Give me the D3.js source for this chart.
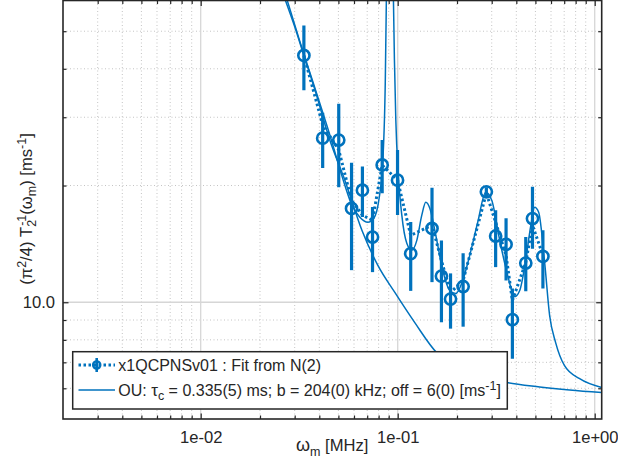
<!DOCTYPE html>
<html><head><meta charset="utf-8">
<script src="https://cdn.jsdelivr.net/npm/d3@7"></script>
<style>
body{margin:0;background:#fff;}
text{font-family:"Liberation Sans",Arial,Helvetica,sans-serif;fill:#262626;}
</style>
</head><body>
<svg id="c" width="618" height="465"></svg>
<script>
// ---------------- data ----------------
const dataX = [0.0334,0.0416,0.0502,0.0583,0.0662,0.0745,0.0834,0.0998,0.1164,0.1493,0.1667,0.1854,0.2148,0.2818,0.3141,0.3548,0.382,0.4467,0.4831,0.5458];
const dataY = [43.3,26.5,26.2,17.45,19.45,14.73,22.6,20.65,13.35,15.5,11.68,10.19,10.98,19.27,14.82,14.1,9.02,12.62,16.44,13.13];
const errLow  = [35.2,22.2,19.8,12.1,16.6,11.96,19.1,16.8,10.7,11.27,8.88,8.55,8.65,18.8,12.32,11.38,7.15,10.68,13.74,10.85];
const errHigh = [51.7,30.8,32.5,22.9,22.4,17.6,26.2,24.7,16.1,19.75,14.44,11.87,13.37,19.8,17.27,16.47,10.85,14.73,19.85,15.33];
// dotted "Fit from N(2)" line values at the data frequencies
const fitN2Y = [43.3,28.67,24.7,18.33,16.77,16.27,22.58,20.65,14.88,15.8,12.82,10.59,11.38,19.11,16.08,13.21,10.1,12.67,15.8,13.21];
// OU model curve
const ouX = [0.0268,0.0301,0.0334,0.0380,0.0452,0.0539,0.0658,0.0793,0.0967,0.1221,0.1579,0.2065,0.2765,0.3575,0.5256,0.7459,1.084];
const ouY = [60.4,51.1,43.25,35.3,26.2,20.65,15.33,12.45,10.6,8.86,7.41,6.78,6.42,6.21,6.05,5.94,5.85];
// oscillating model curve
const modelX = [0.02739,0.03189,0.03798,0.04524,0.05391,0.05851,0.06424,0.07054,0.07565,0.08019,0.08403,0.08651,0.08783,0.09118,0.09478,0.09623,0.09781,0.1007,0.1049,0.1112,0.1179,0.1250,0.1325,0.1388,0.1455,0.1561,0.1693,0.1837,0.1970,0.2138,0.2320,0.2548,0.2797,0.3001,0.3295,0.3617,0.3925,0.4161,0.4463,0.4732,0.4956,0.5194,0.5569,0.5905,0.6333,0.7028,0.8384,1.084];
const modelY = [60.4,47.0,35.7,27.0,20.04,17.8,16.57,16.08,16.47,18.33,23.26,37.5,68.0,267.8,68.0,42.2,29.5,21.28,16.77,14.19,13.61,14.44,16.77,18.11,17.48,14.88,12.08,10.72,10.53,11.38,13.21,16.08,19.22,18.33,14.44,11.72,10.34,10.72,12.82,15.71,17.59,17.07,12.67,9.24,7.87,6.86,6.35,6.03];
const xTickValues = [0.01,0.1,1];
const xTickLabels = ["1e-02","1e-01","1e+00"];
const yTickValues = [10];
const yTickLabels = ["10.0"];
const xMinor = [0.003,0.004,0.005,0.006,0.007,0.008,0.009,0.02,0.03,0.04,0.05,0.06,0.07,0.08,0.09,0.2,0.3,0.4,0.5,0.6,0.7,0.8,0.9];
const yMinor = [6,7,8,9,20,30,40,50];

// ---------------- layout ----------------
const L = 63, R = 601.7, T = 0.5, B = 419;
const blue = "#0072BD", axc = "#262626";
const svg = d3.select("#c");
const x = d3.scaleLog().domain([0.002,1.085]).range([L,R]);
const y = d3.scaleLog().domain([5,60]).range([B,T]);

svg.append("defs").append("clipPath").attr("id","clip")
  .append("rect").attr("x",L).attr("y",T).attr("width",R-L).attr("height",B-T);

// grid
const grid = svg.append("g");
grid.selectAll(".gxm").data(xMinor).join("line")
  .attr("x1",d=>x(d)).attr("x2",d=>x(d)).attr("y1",T).attr("y2",B)
  .attr("stroke","#c4c4c4").attr("stroke-width",1).attr("stroke-dasharray","1,2.5");
grid.selectAll(".gym").data(yMinor).join("line")
  .attr("y1",d=>y(d)).attr("y2",d=>y(d)).attr("x1",L).attr("x2",R)
  .attr("stroke","#c4c4c4").attr("stroke-width",1).attr("stroke-dasharray","1,2.5");
grid.selectAll(".gx").data(xTickValues).join("line")
  .attr("x1",d=>x(d)).attr("x2",d=>x(d)).attr("y1",T).attr("y2",B)
  .attr("stroke","#d6d6d6").attr("stroke-width",1.3);
grid.selectAll(".gy").data(yTickValues).join("line")
  .attr("y1",d=>y(d)).attr("y2",d=>y(d)).attr("x1",L).attr("x2",R)
  .attr("stroke","#d6d6d6").attr("stroke-width",1.3);

// plot content
const plot = svg.append("g").attr("clip-path","url(#clip)");
const lineGen = d3.line().x(d=>x(d[0])).y(d=>y(d[1])).curve(d3.curveMonotoneX);
plot.append("path").datum(ouX.map((v,i)=>[v,ouY[i]])).attr("d",lineGen)
  .attr("fill","none").attr("stroke",blue).attr("stroke-width",1.5);
plot.append("path").datum(modelX.map((v,i)=>[v,modelY[i]])).attr("d",lineGen)
  .attr("fill","none").attr("stroke",blue).attr("stroke-width",1.5);
const lin = d3.line().x(d=>x(d[0])).y(d=>y(d[1]));
plot.append("path").datum(dataX.map((v,i)=>[v,fitN2Y[i]])).attr("d",lin)
  .attr("fill","none").attr("stroke",blue).attr("stroke-width",3).attr("stroke-dasharray","2.5,2.5");
plot.selectAll(".eb").data(dataX).join("line")
  .attr("x1",d=>x(d)).attr("x2",d=>x(d))
  .attr("y1",(d,i)=>y(errLow[i])).attr("y2",(d,i)=>y(errHigh[i]))
  .attr("stroke",blue).attr("stroke-width",3.2);
plot.selectAll(".mk").data(dataX).join("circle")
  .attr("cx",d=>x(d)).attr("cy",(d,i)=>y(dataY[i])).attr("r",5.6)
  .attr("fill","none").attr("stroke",blue).attr("stroke-width",2.6);

// axes
function styleAxis(g){
  g.select(".domain").remove();
  g.selectAll(".tick line").attr("stroke",axc).attr("stroke-width",1.2);
  g.selectAll("text").style("font-size","16.6px").attr("fill",axc);
}
const fmtX = d=>xTickLabels[xTickValues.indexOf(d)];
const fmtY = d=>yTickLabels[yTickValues.indexOf(d)];
svg.append("g").attr("transform",`translate(0,${B})`)
  .call(d3.axisBottom(x).tickValues(xTickValues).tickFormat(fmtX).tickSize(-5.5).tickPadding(12.5)).call(styleAxis);
svg.append("g").attr("transform",`translate(0,${B})`)
  .call(d3.axisBottom(x).tickValues(xMinor).tickFormat("").tickSize(-3.5)).call(styleAxis);
svg.append("g").attr("transform",`translate(0,${T})`)
  .call(d3.axisTop(x).tickValues(xTickValues).tickFormat("").tickSize(-5.5)).call(styleAxis);
svg.append("g").attr("transform",`translate(0,${T})`)
  .call(d3.axisTop(x).tickValues(xMinor).tickFormat("").tickSize(-3.5)).call(styleAxis);
svg.append("g").attr("transform",`translate(${L},0)`)
  .call(d3.axisLeft(y).tickValues(yTickValues).tickFormat(fmtY).tickSize(-5.5).tickPadding(8)).call(styleAxis);
svg.append("g").attr("transform",`translate(${L},0)`)
  .call(d3.axisLeft(y).tickValues(yMinor).tickFormat("").tickSize(-3.5)).call(styleAxis);
svg.append("g").attr("transform",`translate(${R},0)`)
  .call(d3.axisRight(y).tickValues(yTickValues).tickFormat("").tickSize(-5.5)).call(styleAxis);
svg.append("g").attr("transform",`translate(${R},0)`)
  .call(d3.axisRight(y).tickValues(yMinor).tickFormat("").tickSize(-3.5)).call(styleAxis);
svg.append("rect").attr("x",L).attr("y",T).attr("width",R-L).attr("height",B-T)
  .attr("fill","none").attr("stroke",axc).attr("stroke-width",1.6);

// axis labels
const xl = svg.append("text").attr("x",296).attr("y",451).style("font-size","16.6px");
xl.append("tspan").style("font-size","18px").text("ω");
xl.append("tspan").attr("dy",5).style("font-size","12.5px").text("m");
xl.append("tspan").attr("dy",-5).text(" [MHz]");

const yl = svg.append("text").attr("transform","translate(31.5,209) rotate(-90)")
  .attr("text-anchor","middle").style("font-size","16.6px");
yl.append("tspan").text("(π");
yl.append("tspan").attr("dy",-6).style("font-size","12.5px").text("2");
yl.append("tspan").attr("dy",6).text("/4) T");
yl.append("tspan").attr("dy",4).style("font-size","12.5px").text("2");
yl.append("tspan").attr("dy",-10).attr("dx",-6).style("font-size","12.5px").text("-1");
yl.append("tspan").attr("dy",6).text("(ω");
yl.append("tspan").attr("dy",4).style("font-size","12.5px").text("m");
yl.append("tspan").attr("dy",-4).text(") [ms");
yl.append("tspan").attr("dy",-6).style("font-size","12.5px").text("-1");
yl.append("tspan").attr("dy",6).text("]");

// legend
const lg = svg.append("g");
lg.append("rect").attr("x",72.7).attr("y",351.7).attr("width",434.6).attr("height",57.3)
  .attr("fill","#fff").attr("stroke",axc).attr("stroke-width",1.5);
lg.append("line").attr("x1",78.5).attr("x2",115).attr("y1",365).attr("y2",365)
  .attr("stroke",blue).attr("stroke-width",3).attr("stroke-dasharray","2.5,2.5");
lg.append("line").attr("x1",96.7).attr("x2",96.7).attr("y1",358).attr("y2",372)
  .attr("stroke",blue).attr("stroke-width",2.6);
lg.append("circle").attr("cx",96.7).attr("cy",365).attr("r",3.6)
  .attr("fill","none").attr("stroke",blue).attr("stroke-width",2.4);
lg.append("text").attr("x",118.3).attr("y",370.5).style("font-size","16px").text("x1QCPNSv01 : Fit from N(2)");
lg.append("line").attr("x1",78.5).attr("x2",115).attr("y1",390).attr("y2",390)
  .attr("stroke",blue).attr("stroke-width",1.5);
const t2 = lg.append("text").attr("x",118.3).attr("y",395.5).style("font-size","16px");
t2.append("tspan").text("OU: ");
t2.append("tspan").style("font-size","17px").text("τ");
t2.append("tspan").attr("dy",4).style("font-size","12.5px").text("c");
t2.append("tspan").attr("dy",-4).text(" = 0.335(5) ms; b = 204(0) kHz; off = 6(0) [ms");
t2.append("tspan").attr("dy",-6).style("font-size","12.5px").text("-1");
t2.append("tspan").attr("dy",6).text("]");
</script>
</body></html>
